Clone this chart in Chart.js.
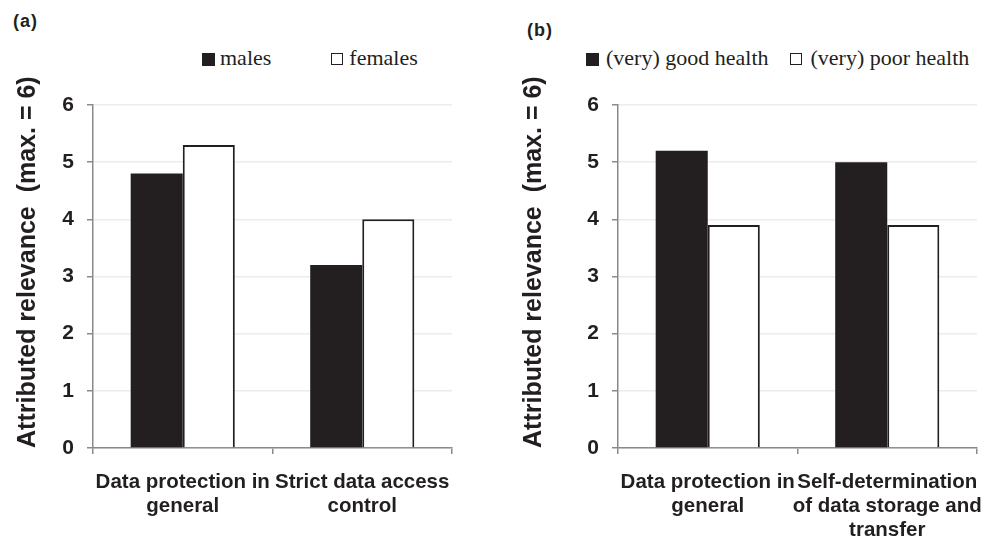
<!DOCTYPE html>
<html>
<head>
<meta charset="utf-8">
<script src="https://cdn.jsdelivr.net/npm/chart.js@4.4.1/dist/chart.umd.min.js"></script>
<style>
  body { margin: 0; background: #fff; width: 997px; height: 542px; position: relative; overflow: hidden;
         font-family: 'Liberation Sans', Arial, sans-serif; color: #231f20; }
  .wrap { position: absolute; top: 0; height: 542px; }
  .panel { position: absolute; font-weight: bold; font-size: 18px; line-height: 1; letter-spacing: 1px; }
  .legend { position: absolute; display: flex; align-items: center; white-space: nowrap;
            font-family: 'Liberation Serif', 'Times New Roman', serif; font-size: 22px; line-height: 22px; }
  .legend .box { box-sizing: border-box; margin-top: 2px; }
</style>
</head>
<body>
<div class="panel" style="left:13px;top:12px">(a)</div>
<div class="panel" style="left:527px;top:21px">(b)</div>
<div id="legA" class="legend" style="left:202px;top:47px"></div>
<div id="legB" class="legend" style="left:586px;top:47px"></div>
<div class="wrap" style="left:0;width:480px"><canvas id="chartA" width="480" height="542"></canvas></div>
<div class="wrap" style="left:500px;width:497px"><canvas id="chartB" width="497" height="542"></canvas></div>
<script>
// panel (a): by sex
const categoriesA = [["Data protection in", "general"], ["Strict data access", "control"]];
const males = [4.8, 3.2];
const females = [5.3, 4.0];

// panel (b): by self-rated health
const categoriesB = [["Data protection in", "general"], ["Self-determination", "of data storage and", "transfer"]];
const goodHealth = [5.2, 5.0];
const poorHealth = [3.9, 3.9];

const yMin = 0, yMax = 6, yStep = 1;
const yTitle = "Attributed relevance  (max. = 6)";

const INK = "#231f20";
const AXIS = "#8a8a8c";
const GRID = "#ececec";

Chart.defaults.font.family = "'Liberation Sans', Arial, sans-serif";

const filled = (label, data) => ({
  label, data, backgroundColor: INK, borderColor: INK, borderWidth: 0
});
const open = (label, data) => ({
  label, data, backgroundColor: "#ffffff", borderColor: INK, borderWidth: 2
});

function makeChart(id, labels, datasets, axisWidth, titlePad, padRight) {
  return new Chart(document.getElementById(id), {
    type: "bar",
    data: { labels, datasets },
    options: {
      responsive: false,
      animation: false,
      datasets: { bar: { categoryPercentage: 0.58, barPercentage: 1.0 } },
      layout: { padding: { top: 105, right: padRight, left: 0, bottom: 0 } },
      plugins: { legend: { display: false }, tooltip: { enabled: false } },
      scales: {
        x: {
          grid: { offset: true, drawOnChartArea: false, color: AXIS, tickLength: 6, lineWidth: 1.5 },
          border: { color: AXIS, width: 1.5 },
          ticks: { color: INK, font: { size: 20.5, weight: "bold", lineHeight: 1.17 }, padding: 16,
                   maxRotation: 0, minRotation: 0, autoSkip: false },
          // labels may overhang the plot; keep the plot width fixed
          afterFit: s => { s.height = 94; s.paddingLeft = 0; s.paddingRight = 0; }
        },
        y: {
          min: yMin, max: yMax,
          ticks: { stepSize: yStep, color: INK, font: { size: 21, weight: "bold" }, padding: 13 },
          grid: { color: GRID, tickColor: AXIS, tickLength: 6, lineWidth: 1.5 },
          border: { color: AXIS, width: 1.5 },
          title: { display: true, text: yTitle, align: "start", color: INK,
                   font: { size: 25, weight: "bold" }, padding: { top: titlePad, bottom: 0 } },
          afterFit: s => { s.width = axisWidth; }
        }
      }
    }
  });
}

function buildLegend(el, chart, gaps) {
  chart.data.datasets.forEach((ds, i) => {
    const box = document.createElement("span");
    box.className = "box";
    const size = ds.borderWidth ? 12 : 13;
    box.style.width = size + "px";
    box.style.height = size + "px";
    box.style.background = ds.backgroundColor;
    box.style.border = ds.borderWidth ? "1.5px solid " + ds.borderColor : "none";
    box.style.marginLeft = (i ? gaps.item : 0) + "px";
    box.style.marginRight = gaps.text[i] + "px";
    const txt = document.createElement("span");
    txt.textContent = ds.label;
    el.appendChild(box);
    el.appendChild(txt);
  });
}

const chartA = makeChart("chartA", categoriesA,
  [filled("males", males), open("females", females)], 93, 13, 28);
const chartB = makeChart("chartB", categoriesB,
  [filled("(very) good health", goodHealth), open("(very) poor health", poorHealth)], 118, 19, 20);

buildLegend(document.getElementById("legA"), chartA, { item: 60, text: [5, 6] });
buildLegend(document.getElementById("legB"), chartB, { item: 21, text: [7, 9] });
</script>
</body>
</html>
